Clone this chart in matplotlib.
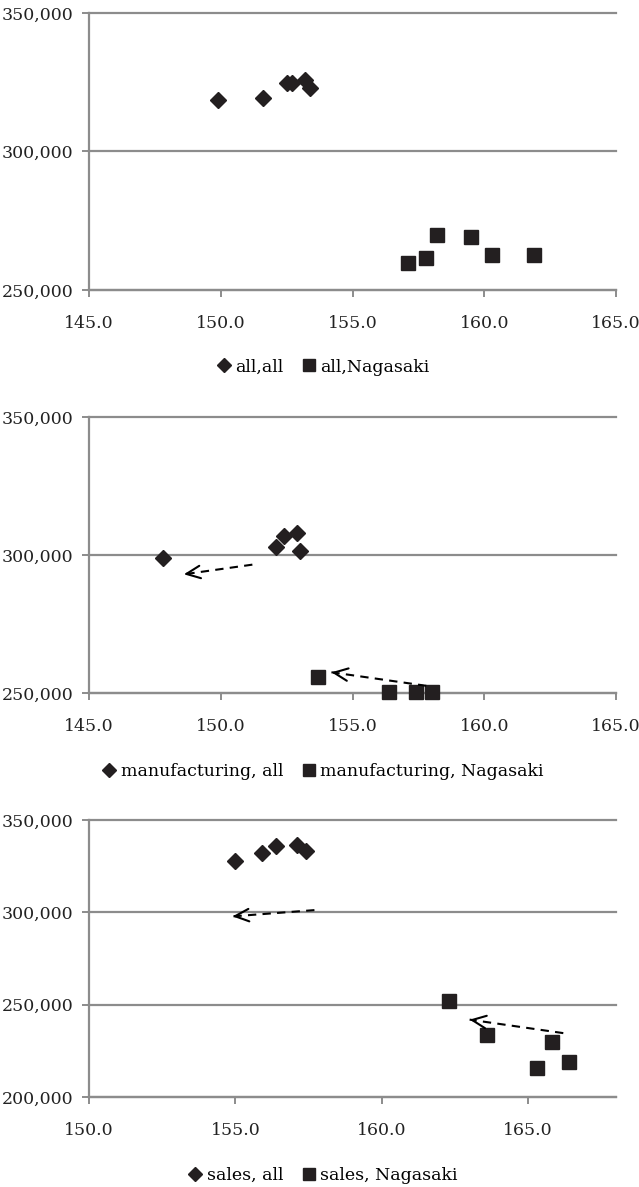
import matplotlib
matplotlib.use('Agg')
import matplotlib.pyplot as plt
from matplotlib.ticker import FuncFormatter

plt.rcParams['font.family'] = ['DejaVu Serif']

# panel 1 : all
all_all_x = [149.9, 151.6, 152.5, 152.7, 153.2, 153.4]
all_all_y = [318400, 319200, 324800, 324600, 325800, 322800]
all_nag_x = [157.1, 157.8, 158.2, 159.5, 160.3, 161.9]
all_nag_y = [259800, 261600, 269700, 269300, 262700, 262800]

# panel 2 : manufacturing
man_all_x = [147.8, 152.1, 152.4, 152.9, 153.0]
man_all_y = [299000, 302900, 306800, 308000, 301500]
man_nag_x = [153.7, 156.4, 157.4, 158.0]
man_nag_y = [255700, 250200, 250200, 250200]
man_arrows = [((151.2, 296500), (148.6, 293000)),
              ((157.8, 252600), (154.2, 257500))]

# panel 3 : sales
sal_all_x = [155.0, 155.9, 156.4, 157.1, 157.4]
sal_all_y = [327600, 332300, 335900, 336500, 333200]
sal_nag_x = [162.3, 163.6, 165.8, 165.3, 166.4]
sal_nag_y = [251900, 233800, 229800, 215900, 218700]
sal_arrows = [((157.7, 301200), (154.9, 297800)),
              ((166.2, 234600), (163.0, 241900))]

panels = [
    (all_all_x, all_all_y, all_nag_x, all_nag_y, [],
     'all,all', 'all,Nagasaki', (145, 165), [145, 150, 155, 160, 165],
     (250000, 350000), [250000, 300000, 350000], 0.7557, 0.2334, -0.278),
    (man_all_x, man_all_y, man_nag_x, man_nag_y, man_arrows,
     'manufacturing, all', 'manufacturing, Nagasaki', (145, 165), [145, 150, 155, 160, 165],
     (250000, 350000), [250000, 300000, 350000], 0.4162, 0.2325, -0.286),
    (sal_all_x, sal_all_y, sal_nag_x, sal_nag_y, sal_arrows,
     'sales, all', 'sales, Nagasaki', (150, 168), [150, 155, 160, 165],
     (200000, 350000), [200000, 250000, 300000, 350000], 0.0758, 0.2334, -0.283),
]

ink = '#231f20'
grey = '#8c8c8c'

fig = plt.figure(figsize=(6.39, 11.87), dpi=100)

for (ax_, ay_, nx_, ny_, arrows, lab1, lab2, xlim, xticks,
     ylim, yticks, bottom, height, legy) in panels:
    ax = fig.add_axes([0.1393, bottom, 0.8247, height])
    ax.set_xlim(*xlim)
    ax.set_ylim(*ylim)
    ax.set_xticks(xticks)
    ax.set_yticks(yticks)
    ax.xaxis.set_major_formatter(FuncFormatter(lambda v, p: '%.1f' % v))
    ax.yaxis.set_major_formatter(FuncFormatter(lambda v, p: '{:,.0f}'.format(v)))
    for s in ['top', 'right']:
        ax.spines[s].set_visible(False)
    for s in ['left', 'bottom']:
        ax.spines[s].set_color(grey)
        ax.spines[s].set_linewidth(1.6)
    ax.grid(axis='y', color=grey, linewidth=1.6)
    for gl in ax.get_ygridlines():
        gl.set_clip_on(False)
    ax.set_axisbelow(True)
    ax.tick_params(axis='x', colors=grey, labelcolor='#222222', length=5,
                   width=1.4, pad=13, labelsize=12.5)
    ax.tick_params(axis='y', colors=grey, labelcolor='#222222', length=5,
                   width=1.4, pad=6, labelsize=12.5)

    ax.plot(ax_, ay_, linestyle='none', marker='D', markersize=7.8,
            color=ink, clip_on=False, zorder=3, label=lab1)
    ax.plot(nx_, ny_, linestyle='none', marker='s', markersize=10,
            color=ink, clip_on=False, zorder=3, label=lab2)

    for tail, head in arrows:
        ax.plot([tail[0], head[0]], [tail[1], head[1]], color='black',
                linewidth=1.5, linestyle=(0, (4, 3)), zorder=4)
        dx = (head[0] - tail[0]) * 0.05
        dy = (head[1] - tail[1]) * 0.05
        ax.annotate('', xy=head, xytext=(head[0] - dx, head[1] - dy),
                    arrowprops=dict(arrowstyle='->, head_length=1.0, head_width=0.45',
                                    color='black', lw=1.5, shrinkA=0, shrinkB=0),
                    zorder=4)

    ax.legend(loc='center', bbox_to_anchor=(0.446, legy), ncol=2, frameon=False,
              fontsize=12.5, handlelength=0.6, handletextpad=0.35,
              columnspacing=1.2, borderaxespad=0, markerscale=0.85)

fig.savefig('out.png', dpi=100)
